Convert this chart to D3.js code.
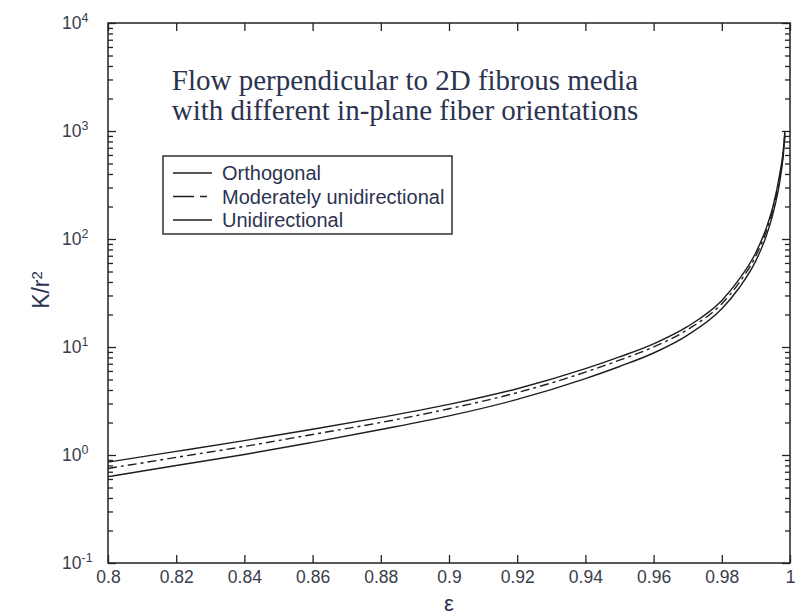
<!DOCTYPE html>
<html>
<head>
<meta charset="utf-8">
<script src="https://cdn.jsdelivr.net/npm/d3@7/dist/d3.min.js"></script>
<style>
  html, body { margin: 0; padding: 0; background: #fff; }
  svg { display: block; }
  .axis path { stroke: #222; stroke-width: 1.5; }
  .axis line { stroke: #222; stroke-width: 1.3; }
  .axis text { font-family: "Liberation Sans", Arial, sans-serif; font-size: 17.5px; fill: #3a3d4a; }
</style>
</head>
<body>
<svg id="chart" width="796" height="616"></svg>
<script>
// Porosity values (epsilon) at which the permeability is sampled
const porosity = [0.8, 0.82, 0.84, 0.86, 0.88, 0.9, 0.92, 0.94, 0.95, 0.96, 0.97, 0.98, 0.985, 0.99, 0.993, 0.995, 0.997, 0.998, 0.9985];

// Dimensionless permeability K/r^2 for each in-plane fiber orientation
const orthogonal     = [0.86, 1.08, 1.36, 1.73, 2.23, 2.94, 4.11, 6.3, 8.1, 10.7, 15.5, 27, 42, 75, 125, 200, 400, 650, 1000];
const moderately     = [0.75, 0.95, 1.2, 1.55, 2.0, 2.68, 3.78, 5.85, 7.55, 10.0, 14.5, 25.2, 39, 70, 117, 188, 375, 615, 950];
const unidirectional = [0.63, 0.8, 1.01, 1.31, 1.72, 2.3, 3.27, 5.1, 6.6, 8.8, 12.9, 22.6, 35, 63, 106, 172, 340, 580, 900];

const seriesNames = ["Orthogonal", "Moderately unidirectional", "Unidirectional"];
const seriesDash  = [null, "9,4,3,4", null];

const xTickValues = [0.8, 0.82, 0.84, 0.86, 0.88, 0.9, 0.92, 0.94, 0.96, 0.98, 1];
const xTickLabels = ["0.8", "0.82", "0.84", "0.86", "0.88", "0.9", "0.92", "0.94", "0.96", "0.98", "1"];
const yTickValues = [0.1, 1, 10, 100, 1000, 10000];
const yTickExponents = ["-1", "0", "1", "2", "3", "4"];

const titleLines = ["Flow perpendicular to 2D fibrous media", "with different in-plane fiber orientations"];

const svg = d3.select("#chart");
const plotLeft = 108, plotRight = 790, plotTop = 23, plotBottom = 563;

const x = d3.scaleLinear().domain([0.8, 1]).range([plotLeft, plotRight]);
const y = d3.scaleLog().domain([0.1, 10000]).range([plotBottom, plotTop]);

// minor log ticks (2..9 of each decade)
const minorY = [];
for (let d = -1; d < 4; d++) for (let m = 2; m <= 9; m++) minorY.push(m * Math.pow(10, d));

const g = svg.append("g");

// frame
g.append("rect").attr("x", plotLeft).attr("y", plotTop)
  .attr("width", plotRight - plotLeft).attr("height", plotBottom - plotTop)
  .attr("fill", "none").attr("stroke", "#222").attr("stroke-width", 1.5);

// bottom axis with labels
const xAxis = d3.axisBottom(x).tickValues(xTickValues)
  .tickFormat((d, i) => xTickLabels[i]).tickSizeInner(-8).tickSizeOuter(0).tickPadding(8);
g.append("g").attr("class", "axis").attr("transform", `translate(0,${plotBottom})`).call(xAxis)
  .call(s => s.select(".domain").remove());

// top axis ticks only
g.append("g").attr("class", "axis").attr("transform", `translate(0,${plotTop})`)
  .call(d3.axisTop(x).tickValues(xTickValues).tickFormat("").tickSizeInner(-8).tickSizeOuter(0))
  .call(s => s.select(".domain").remove());

// left axis: major and minor
const yAxisL = g.append("g").attr("class", "axis").attr("transform", `translate(${plotLeft},0)`)
  .call(d3.axisLeft(y).tickValues(yTickValues).tickFormat("").tickSizeInner(-8).tickSizeOuter(0))
  .call(s => s.select(".domain").remove());
g.append("g").attr("class", "axis").attr("transform", `translate(${plotLeft},0)`)
  .call(d3.axisLeft(y).tickValues(minorY).tickFormat("").tickSizeInner(-5).tickSizeOuter(0))
  .call(s => s.select(".domain").remove());

// y labels as powers of ten
yAxisL.selectAll(".tick").each(function (d, i) {
  const t = d3.select(this).select("text");
  t.attr("x", -46).attr("dy", "0.32em").attr("text-anchor", "start");
  t.append("tspan").text("10");
  t.append("tspan").attr("dy", "-0.6em").attr("font-size", "12.5px").text(yTickExponents[i]);
});

// right axis: major and minor
g.append("g").attr("class", "axis").attr("transform", `translate(${plotRight},0)`)
  .call(d3.axisRight(y).tickValues(yTickValues).tickFormat("").tickSizeInner(-8).tickSizeOuter(0))
  .call(s => s.select(".domain").remove());
g.append("g").attr("class", "axis").attr("transform", `translate(${plotRight},0)`)
  .call(d3.axisRight(y).tickValues(minorY).tickFormat("").tickSizeInner(-5).tickSizeOuter(0))
  .call(s => s.select(".domain").remove());

// curves
const line = d3.line().x((d, i) => x(porosity[i])).y(d => y(d)).curve(d3.curveMonotoneX);
[orthogonal, moderately, unidirectional].forEach((vals, k) => {
  g.append("path").datum(vals).attr("d", line)
    .attr("fill", "none").attr("stroke", "#1e1e1e").attr("stroke-width", 1.4)
    .attr("stroke-dasharray", seriesDash[k]);
});

// title
const title = g.append("text").attr("font-family", "'Liberation Serif', 'Times New Roman', serif")
  .attr("font-size", 29).attr("fill", "#2c3350").attr("text-anchor", "middle");
titleLines.forEach((t, i) => title.append("tspan").attr("x", 405).attr("y", 90 + i * 30).text(t));

// legend
const lg = g.append("g");
lg.append("rect").attr("x", 163).attr("y", 156).attr("width", 289).attr("height", 78)
  .attr("fill", "#fff").attr("stroke", "#222").attr("stroke-width", 1.4);
seriesNames.forEach((name, i) => {
  const yy = 173 + i * 23.5;
  lg.append("line").attr("x1", 173).attr("x2", 212).attr("y1", yy).attr("y2", yy)
    .attr("stroke", "#1e1e1e").attr("stroke-width", 1.4)
    .attr("stroke-dasharray", i === 1 ? "21,6,7,50" : null);
  lg.append("text").attr("x", 222).attr("y", yy).attr("dy", "0.35em")
    .attr("font-family", "'Liberation Sans', Arial, sans-serif").attr("font-size", 20)
    .attr("fill", "#2c3350").text(name);
});

// axis titles
g.append("text").attr("transform", "translate(49,290) rotate(-90)")
  .attr("text-anchor", "middle").attr("font-family", "'Liberation Sans', Arial, sans-serif")
  .attr("font-size", 23).attr("fill", "#2c3350")
  .call(t => { t.append("tspan").text("K/r"); t.append("tspan").attr("dy", "-0.5em").attr("font-size", 15).text("2"); });
g.append("text").attr("x", 449).attr("y", 611).attr("text-anchor", "middle")
  .attr("font-family", "'Liberation Sans', Arial, sans-serif").attr("font-size", 22)
  .attr("fill", "#2c3350").text("ε");
</script>
</body>
</html>
